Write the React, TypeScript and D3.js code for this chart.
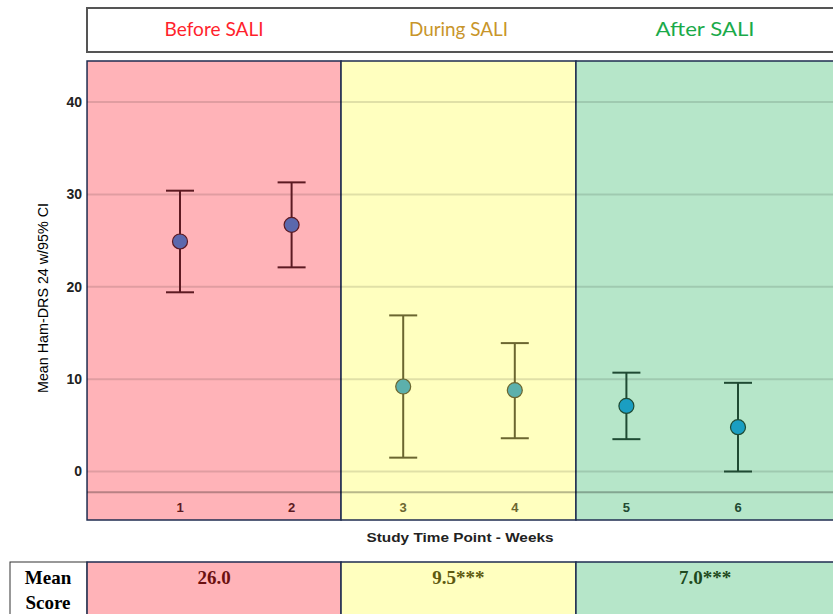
import React, { useEffect, useRef } from "react";
import * as d3 from "d3";

const timePoints = [1, 2, 3, 4, 5, 6];
const means = [24.9, 26.7, 9.2, 8.8, 7.1, 4.8];
const upperCI = [30.4, 31.3, 16.9, 13.9, 10.7, 9.6];
const lowerCI = [19.4, 22.1, 1.5, 3.6, 3.5, 0.0];
const phaseOf = [0, 0, 1, 1, 2, 2];

const phaseNames = ["Before SALI", "During SALI", "After SALI"];
const phaseStart = [0.167, 2.443, 4.548];
const phaseEnd = [2.443, 4.548, 8];
const phaseMeanScore = ["26.0", "9.5***", "7.0***"];

const yTicks = [0, 10, 20, 30, 40];
const baselineValue = -2.25;

const phaseFill = ["#ffb3b8", "#ffffbf", "#b6e6c9"];
const phaseTitleColor = ["#ff1f2d", "#c8952a", "#1aaa4a"];
const phaseBarColor = ["#5c1a22", "#6b6630", "#1f4a33"];
const phaseDotColor = ["#5b68ad", "#5cb0ac", "#1a9ec2"];
const phaseScoreColor = ["#6b1010", "#5e5a10", "#1e4a20"];

export default function App() {
  const ref = useRef<SVGSVGElement>(null);

  useEffect(() => {
    const svg = d3.select(ref.current);
    svg.selectAll("*").remove();

    const x = d3.scaleLinear().domain([1, 6]).range([180, 738]);
    const y = d3.scaleLinear().domain([0, 40]).range([471.5, 102]);
    const plotTop = 61, plotBottom = 520;

    // header box
    svg.append("rect")
      .attr("x", 87).attr("y", 8).attr("width", 760).attr("height", 44)
      .attr("fill", "#fff").attr("stroke", "#555").attr("stroke-width", 2);
    phaseNames.forEach((name, i) => {
      const cx = i === 2 ? 705 : (x(phaseStart[i]) + x(phaseEnd[i])) / 2;
      svg.append("text")
        .attr("x", cx).attr("y", 36)
        .attr("text-anchor", "middle")
        .attr("font-family", "Lato, 'Open Sans', sans-serif")
        .attr("font-size", 19)
        .attr("fill", phaseTitleColor[i])
        .attr("textLength", 99).attr("lengthAdjust", "spacingAndGlyphs")
        .text(name);
    });

    // panels
    phaseNames.forEach((_, i) => {
      svg.append("rect")
        .attr("x", x(phaseStart[i])).attr("y", plotTop)
        .attr("width", x(phaseEnd[i]) - x(phaseStart[i]))
        .attr("height", plotBottom - plotTop)
        .attr("fill", phaseFill[i])
        .attr("stroke", "#1f2d50").attr("stroke-width", 1.5);
    });

    // gridlines
    svg.append("g").selectAll("line").data(yTicks).join("line")
      .attr("x1", x(phaseStart[0])).attr("x2", 833)
      .attr("y1", d => y(d)).attr("y2", d => y(d))
      .attr("stroke", "rgba(0,0,0,0.12)").attr("stroke-width", 2);
    svg.append("line")
      .attr("x1", x(phaseStart[0])).attr("x2", 833)
      .attr("y1", y(baselineValue)).attr("y2", y(baselineValue))
      .attr("stroke", "rgba(0,0,0,0.28)").attr("stroke-width", 2);

    // y tick labels
    svg.append("g").selectAll("text").data(yTicks).join("text")
      .attr("x", 82).attr("y", d => y(d)).attr("dy", "0.35em")
      .attr("text-anchor", "end")
      .attr("font-family", "Arial, 'Liberation Sans', sans-serif")
      .attr("font-size", 14).attr("font-weight", "bold").attr("fill", "#222")
      .text(d => d);

    // y axis title
    svg.append("text")
      .attr("transform", "translate(48,298) rotate(-90)")
      .attr("text-anchor", "middle")
      .attr("font-family", "Arial, 'Liberation Sans', sans-serif")
      .attr("font-size", 14).attr("fill", "#000")
      .attr("textLength", 190).attr("lengthAdjust", "spacingAndGlyphs")
      .text("Mean Ham-DRS 24 w/95% CI");

    // x tick labels
    svg.append("g").selectAll("text").data(timePoints).join("text")
      .attr("x", d => x(d)).attr("y", 512)
      .attr("text-anchor", "middle")
      .attr("font-family", "Arial, 'Liberation Sans', sans-serif")
      .attr("font-size", 13).attr("font-weight", "bold")
      .attr("fill", (_, i) => phaseBarColor[phaseOf[i]])
      .text(d => d);

    // x axis title
    svg.append("text")
      .attr("x", 460).attr("y", 542).attr("text-anchor", "middle")
      .attr("font-family", "Arial, 'Liberation Sans', sans-serif")
      .attr("font-size", 13).attr("font-weight", "bold").attr("fill", "#222")
      .attr("textLength", 187).attr("lengthAdjust", "spacingAndGlyphs")
      .text("Study Time Point - Weeks");

    // error bars
    const bars = svg.append("g").selectAll("g").data(timePoints).join("g");
    bars.append("line")
      .attr("x1", d => x(d)).attr("x2", d => x(d))
      .attr("y1", (_, i) => y(upperCI[i])).attr("y2", (_, i) => y(lowerCI[i]))
      .attr("stroke", (_, i) => phaseBarColor[phaseOf[i]]).attr("stroke-width", 2);
    [upperCI, lowerCI].forEach(arr => {
      bars.append("line")
        .attr("x1", d => x(d) - 14).attr("x2", d => x(d) + 14)
        .attr("y1", (_, i) => y(arr[i])).attr("y2", (_, i) => y(arr[i]))
        .attr("stroke", (_, i) => phaseBarColor[phaseOf[i]]).attr("stroke-width", 2);
    });
    bars.append("circle")
      .attr("cx", d => x(d)).attr("cy", (_, i) => y(means[i])).attr("r", 7.5)
      .attr("fill", (_, i) => phaseDotColor[phaseOf[i]])
      .attr("stroke", (_, i) => phaseBarColor[phaseOf[i]]).attr("stroke-width", 1.2);

    // mean score table
    svg.append("rect")
      .attr("x", 10).attr("y", 562).attr("width", 77).attr("height", 60)
      .attr("fill", "#fff").attr("stroke", "#333").attr("stroke-width", 1);
    ["Mean", "Score"].forEach((t, i) => {
      svg.append("text")
        .attr("x", 48).attr("y", 584 + i * 25).attr("text-anchor", "middle")
        .attr("font-family", "'Liberation Serif', 'Times New Roman', serif")
        .attr("font-size", 19).attr("font-weight", "bold").attr("fill", "#000")
        .text(t);
    });
    phaseMeanScore.forEach((s, i) => {
      svg.append("rect")
        .attr("x", x(phaseStart[i])).attr("y", 562)
        .attr("width", x(phaseEnd[i]) - x(phaseStart[i])).attr("height", 60)
        .attr("fill", phaseFill[i]).attr("stroke", "#1f2d50").attr("stroke-width", 1.5);
      const cx = i === 2 ? 705 : (x(phaseStart[i]) + x(phaseEnd[i])) / 2;
      svg.append("text")
        .attr("x", cx).attr("y", 584).attr("text-anchor", "middle")
        .attr("font-family", "'Liberation Serif', 'Times New Roman', serif")
        .attr("font-size", 19).attr("font-weight", "bold")
        .attr("fill", phaseScoreColor[i])
        .text(s);
    });
  }, []);

  return (
    <svg ref={ref} width={833} height={614}
      style={{ position: "absolute", left: 0, top: 0, background: "#fff" }} />
  );
}
